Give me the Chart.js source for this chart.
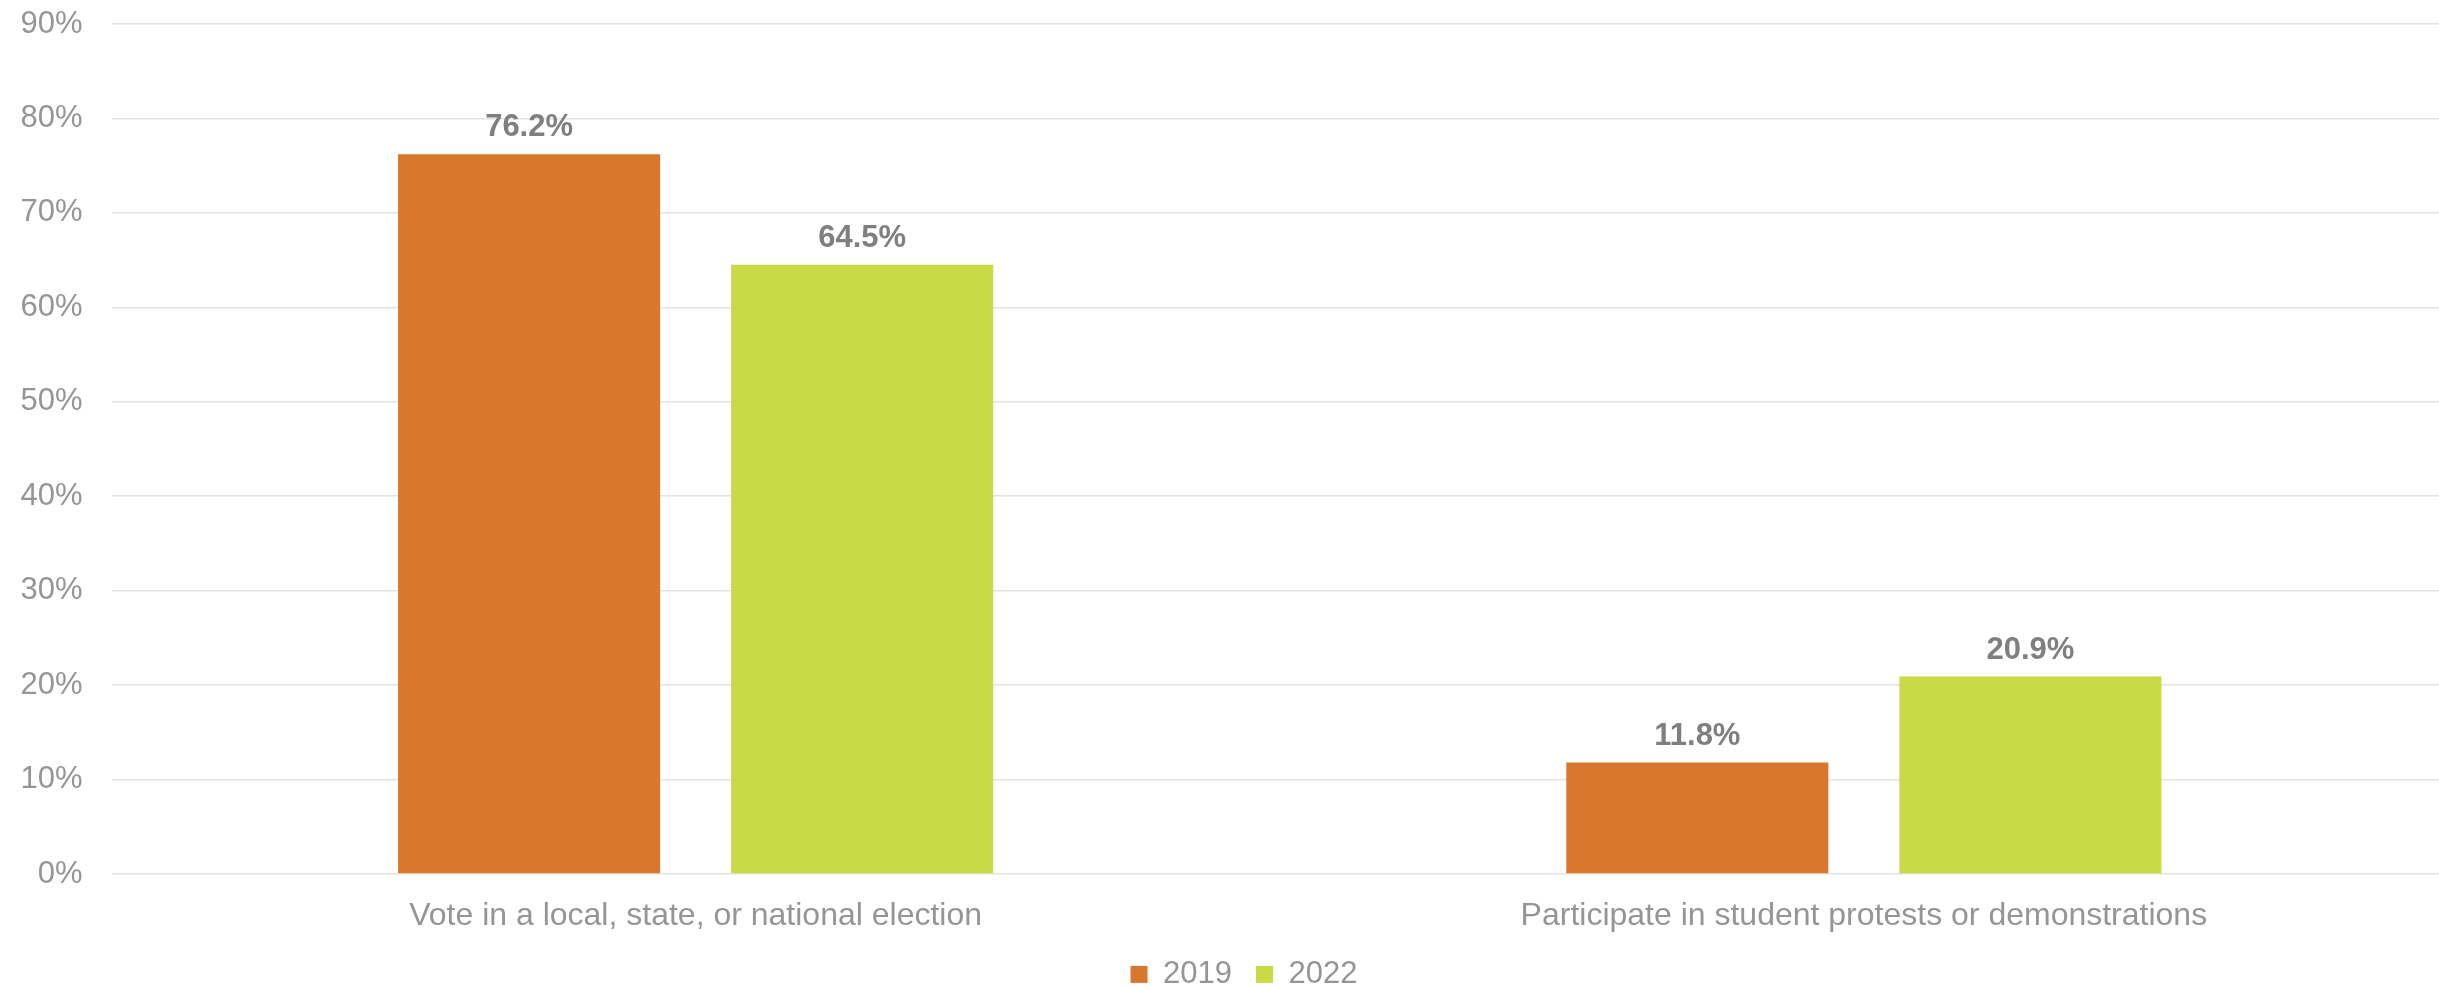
<!DOCTYPE html>
<html>
<head>
<meta charset="utf-8">
<script src="https://cdn.jsdelivr.net/npm/chart.js@4.4.1/dist/chart.umd.min.js"></script>
<style>
  html, body { margin: 0; padding: 0; background: #ffffff; overflow: hidden; }
  #wrap { width: 2448px; height: 987px; }
  canvas { display: block; }
</style>
</head>
<body>
<div id="wrap"><canvas id="c" width="2448" height="987"></canvas></div>
<script>
const categories = ["Vote in a local, state, or national election", "Participate in student protests or demonstrations"];
const seriesNames = ["2019", "2022"];
const values2019 = [76.2, 11.8];
const values2022 = [64.5, 20.9];
const yTicks = [0, 10, 20, 30, 40, 50, 60, 70, 80, 90];

const ORANGE = "#D9772C";
const GREEN = "#CAD946";
const AXIS_TEXT = "#959595";
const LABEL_TEXT = "#7F7F7F";
const FONT = "'Liberation Sans', Arial, sans-serif";
const PAD_LEFT = 40;
const X_TICK_PAD = 22.5;
const X_FONT = 32;

const valueLabels = {
  id: "valueLabels",
  afterLayout(chart) {
    // let the y tick labels use the full left margin
    chart.scales.y.left = 0;
  },
  afterDatasetsDraw(chart) {
    const ctx = chart.ctx;
    ctx.save();
    ctx.font = "bold 31px " + FONT;
    ctx.fillStyle = LABEL_TEXT;
    ctx.textAlign = "center";
    ctx.textBaseline = "alphabetic";
    chart.data.datasets.forEach((ds, di) => {
      const meta = chart.getDatasetMeta(di);
      meta.data.forEach((bar, i) => {
        ctx.fillText(ds.data[i].toFixed(1) + "%", bar.x, bar.y - 18);
      });
    });
    ctx.restore();
  }
};

new Chart(document.getElementById("c"), {
  type: "bar",
  data: {
    labels: categories,
    datasets: [
      { label: seriesNames[0], data: values2019, backgroundColor: ORANGE, categoryPercentage: 0.5702, barPercentage: 0.7868 },
      { label: seriesNames[1], data: values2022, backgroundColor: GREEN, categoryPercentage: 0.5702, barPercentage: 0.7868 }
    ]
  },
  options: {
    responsive: false,
    animation: false,
    devicePixelRatio: 1,
    layout: { padding: { left: PAD_LEFT, right: 0, top: 24, bottom: -12.9 } },
    plugins: {
      legend: {
        position: "bottom",
        labels: {
          boxWidth: 17,
          boxHeight: 17,
          padding: 24,
          color: AXIS_TEXT,
          font: { family: FONT, size: 31 }
        }
      },
      tooltip: { enabled: false },
      title: { display: false }
    },
    scales: {
      x: {
        grid: { display: false, drawTicks: false },
        border: { display: false },
        afterFit(scale) { scale.height = X_TICK_PAD + X_FONT * 1.2; },
        ticks: {
          color: AXIS_TEXT,
          font: { family: FONT, size: X_FONT },
          padding: X_TICK_PAD,
          maxRotation: 0,
          autoSkip: false
        }
      },
      y: {
        min: 0,
        max: 90,
        afterBuildTicks(scale) { scale.ticks = yTicks.map(v => ({ value: v })); },
        afterFit(scale) {
          scale.width = 111.5 - PAD_LEFT;
          scale.paddingTop = 0;
          scale.paddingBottom = 0;
        },
        grid: { color: "#E3E3E3", lineWidth: 1.5, drawTicks: false },
        border: { display: false },
        ticks: {
          color: AXIS_TEXT,
          font: { family: FONT, size: 31 },
          padding: 29,
          callback: (v) => v + "%"
        }
      }
    }
  },
  plugins: [valueLabels]
});
</script>
</body>
</html>
